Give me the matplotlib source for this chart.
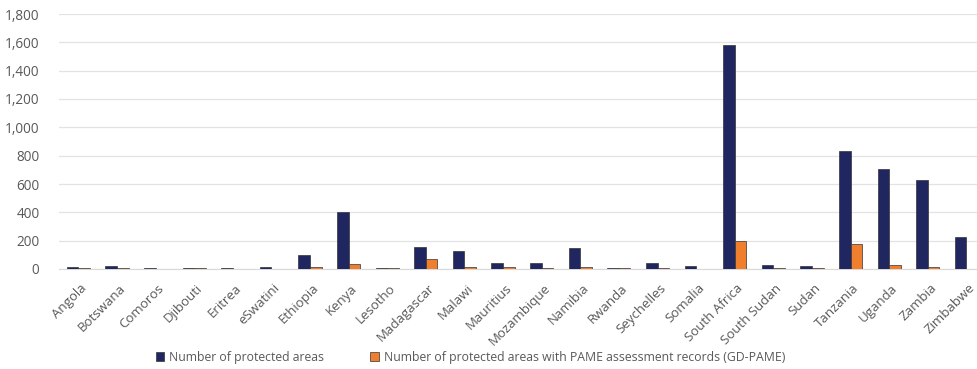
import matplotlib
matplotlib.use('Agg')
import matplotlib.pyplot as plt
import numpy as np

countries = ['Angola', 'Botswana', 'Comoros', 'Djibouti', 'Eritrea', 'eSwatini',
             'Ethiopia', 'Kenya', 'Lesotho', 'Madagascar', 'Malawi', 'Mauritius',
             'Mozambique', 'Namibia', 'Rwanda', 'Seychelles', 'Somalia',
             'South Africa', 'South Sudan', 'Sudan', 'Tanzania', 'Uganda',
             'Zambia', 'Zimbabwe']
protected_areas = [14, 22, 10, 8, 5, 14, 100, 405, 6, 155, 127, 42,
                   42, 145, 7, 40, 20, 1581, 25, 20, 833, 706, 628, 226]
pame_records = [5, 6, 0, 6, 3, 0, 16, 38, 6, 72, 14, 13,
                8, 17, 5, 5, 0, 200, 6, 6, 176, 30, 15, 3]
yticks = [0, 200, 400, 600, 800, 1000, 1200, 1400, 1600, 1800]

navy = '#1f2660'
orange = '#f07f2d'
grey = '#595959'

fig = plt.figure(figsize=(9.78, 3.69), dpi=100)
ax = fig.add_axes([59 / 978, 1 - 269 / 369, 1 - 59 / 978, 255 / 369])

x = np.arange(len(countries))
w = 0.3
ax.bar(x - w / 2, protected_areas, w, color=navy, edgecolor='#333333',
       linewidth=0.5, label='Number of protected areas', zorder=3)
ax.bar(x + w / 2, pame_records, w, color=orange, edgecolor='#333333',
       linewidth=0.5,
       label='Number of protected areas with PAME assessment records (GD-PAME)',
       zorder=3)

ax.set_xlim(-0.5, 23.3)
ax.set_ylim(0, 1800)
ax.set_yticks(yticks)
ax.set_yticklabels(['{:,}'.format(v) for v in yticks], fontsize=9.8,
                   color=grey, family='Open Sans')
ax.set_xticks(x + 0.05)
ax.set_xticklabels(countries, rotation=45, ha='right', rotation_mode='anchor',
                   fontsize=9.5, color=grey, family='Open Sans')
ax.tick_params(length=0)
ax.tick_params(axis='y', pad=14)
ax.tick_params(axis='x', pad=9)
ax.yaxis.grid(True, color='#e3e3e3', linewidth=0.9, zorder=0)
for s in ['top', 'right', 'left']:
    ax.spines[s].set_visible(False)
ax.spines['bottom'].set_color('#d9d9d9')

leg = fig.legend(loc='center', bbox_to_anchor=(0.481, 1 - 357 / 369), ncol=2,
                 frameon=False, handlelength=0.7,
                 handleheight=0.7, handletextpad=0.4, columnspacing=3.8,
                 prop={'family': 'Open Sans', 'size': 8.8})
for t in leg.get_texts():
    t.set_color(grey)

fig.savefig('out.png', dpi=100)
